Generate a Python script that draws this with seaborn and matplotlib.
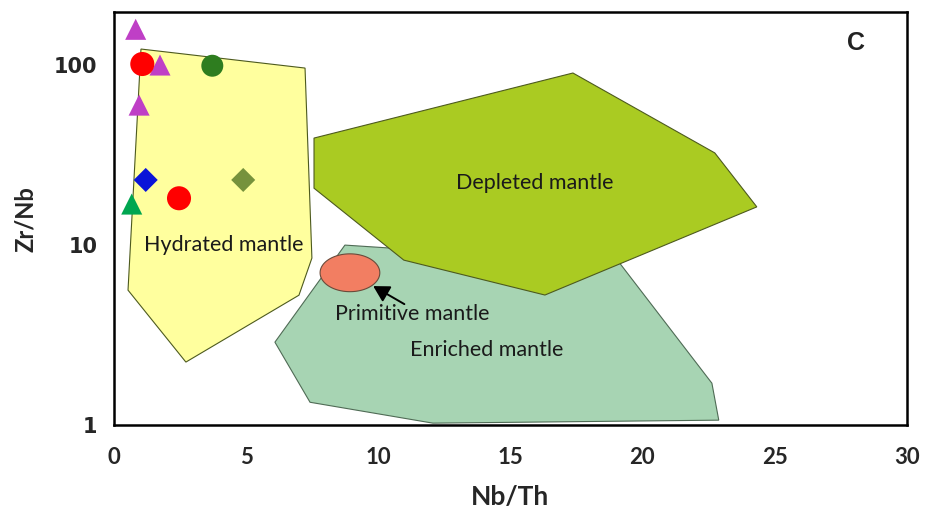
import numpy as np
import pandas as pd
import matplotlib
matplotlib.use("Agg")
import matplotlib.pyplot as plt
import seaborn as sns

# field outlines (Nb/Th, Zr/Nb)
hydrated_x = [1.02, 7.23, 7.49, 7.00, 2.72, 0.53]
hydrated_y = [122.7, 96.2, 8.47, 5.27, 2.24, 5.62]

depleted_x = [7.57, 17.37, 22.74, 24.33, 16.31, 10.97, 7.57]
depleted_y = [39.3, 90.3, 32.5, 16.3, 5.28, 8.25, 20.7]

enriched_x = [8.74, 19.14, 22.63, 22.89, 12.07, 7.42, 6.09]
enriched_y = [10.0, 7.94, 1.71, 1.066, 1.026, 1.34, 2.89]

# primitive mantle ellipse: centre and half-axes (x units, log10 decades)
primitive_center = (8.93, 7.02)
primitive_half = (1.13, 0.105)

# samples
groups = ["tri_magenta", "tri_magenta", "tri_magenta", "circle_red", "circle_red",
          "circle_green", "diamond_blue", "diamond_olive", "tri_green"]
nb_th = [0.82, 1.74, 0.95, 1.07, 2.46, 3.72, 1.20, 4.89, 0.67]
zr_nb = [157.9, 100.0, 59.9, 101.3, 18.2, 99.1, 23.0, 23.0, 16.9]

group_style = {
    "tri_magenta": ("#BF3FC6", "^", 230),
    "circle_red": ("#FF0000", "o", 300),
    "circle_green": ("#2E7D1F", "o", 250),
    "diamond_blue": ("#0A14D8", "D", 150),
    "diamond_olive": ("#76923C", "D", 150),
    "tri_green": ("#00A650", "^", 230),
}

df = pd.DataFrame({"group": groups, "Nb/Th": nb_th, "Zr/Nb": zr_nb})

sns.set_style("white")
plt.rcParams["font.family"] = ["Lato", "DejaVu Sans"]

fig = plt.figure(figsize=(9.27, 5.11), dpi=100)
ax = fig.add_axes([0.123, 0.168, 0.855, 0.8085])

ax.set_yscale("log")
ax.set_xlim(0, 30)
ax.set_ylim(1, 197)

edge = "#4D5A1E"
ax.fill(hydrated_x, hydrated_y, facecolor="#FFFF9E", edgecolor=edge, linewidth=0.8, zorder=1)
ax.fill(enriched_x, enriched_y, facecolor="#A7D4B3", edgecolor="#4F6B55", linewidth=0.8, zorder=2)
ax.fill(depleted_x, depleted_y, facecolor="#AACB22", edgecolor=edge, linewidth=0.8, zorder=3)

t = np.linspace(0, 2 * np.pi, 200)
ex = primitive_center[0] + primitive_half[0] * np.cos(t)
ey = 10 ** (np.log10(primitive_center[1]) + primitive_half[1] * np.sin(t))
ax.fill(ex, ey, facecolor="#F27E62", edgecolor="#6A4A3A", linewidth=0.8, zorder=4)

ax.annotate("", xy=(9.81, 5.92), xytext=(10.99, 4.70),
            arrowprops=dict(arrowstyle="-|>,head_length=0.8,head_width=0.45",
                            color="black", lw=1.4, mutation_scale=12, shrinkA=0, shrinkB=0),
            zorder=5)

label_kw = dict(fontsize=15.5, color="#1a1a1a", ha="center", va="center", zorder=6)
ax.text(4.16, 10.0, "Hydrated mantle", **label_kw)
ax.text(15.93, 22.1, "Depleted mantle", **label_kw)
ax.text(11.3, 4.15, "Primitive mantle", **label_kw)
ax.text(14.1, 2.61, "Enriched mantle", **label_kw)
ax.text(28.1, 132.5, "C", fontsize=18, fontweight="bold", ha="center", va="center",
        family=["Liberation Sans", "DejaVu Sans"], color="#222222")

for g, sub in df.groupby("group", sort=False):
    color, marker, size = group_style[g]
    sns.scatterplot(data=sub, x="Nb/Th", y="Zr/Nb", ax=ax, color=color, marker=marker,
                    s=size, edgecolor="none", linewidth=0, zorder=10, legend=False)

ax.set_xticks([0, 5, 10, 15, 20, 25, 30])
ax.set_xticklabels(["0", "5", "10", "15", "20", "25", "30"], fontsize=16, fontweight="bold")
ax.set_yticks([1, 10, 100])
ax.set_yticklabels(["1", "10", "100"], fontsize=15, fontweight="bold",
                   fontfamily="DejaVu Sans")
ax.yaxis.set_minor_locator(matplotlib.ticker.NullLocator())

ax.tick_params(axis="both", direction="out", length=6, width=1.5, color="black")
ax.tick_params(axis="x", pad=10)
ax.tick_params(axis="y", pad=6)

for side in ["left", "bottom", "top", "right"]:
    ax.spines[side].set_visible(True)
    ax.spines[side].set_color("black")
    ax.spines[side].set_linewidth(1.8)

ax.set_xlabel("Nb/Th", fontsize=19, fontweight="bold", labelpad=12)
ax.set_ylabel("Zr/Nb", fontsize=17, fontweight="bold", labelpad=12)

fig.savefig("out.png", dpi=100)
